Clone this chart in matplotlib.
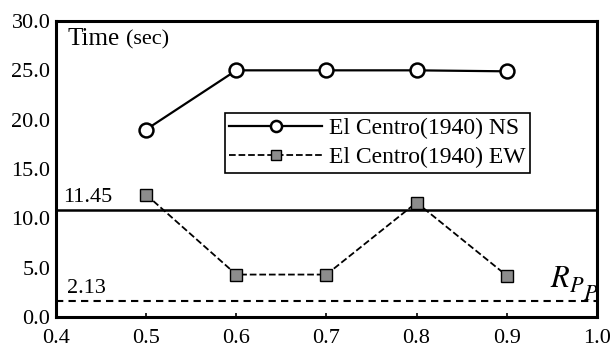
import numpy as np
import matplotlib
matplotlib.use("Agg")
import matplotlib.pyplot as plt

plt.rcParams['font.family'] = ['Liberation Serif', 'DejaVu Serif']
plt.rcParams['mathtext.fontset'] = 'stix'

# ratio values and durations
ratio = [0.5, 0.6, 0.7, 0.8, 0.9]
time_ns = [19.0, 25.0, 25.0, 25.0, 24.9]
time_ew = [12.4, 4.3, 4.3, 11.6, 4.2]
label_ns = "El Centro(1940) NS"
label_ew = "El Centro(1940) EW"

# reference levels (drawn position, printed label)
level_hi = 10.8
level_hi_txt = "11.45"
level_lo = 1.6
level_lo_txt = "2.13"

xticks = [0.4, 0.5, 0.6, 0.7, 0.8, 0.9, 1.0]
yticks = [0.0, 5.0, 10.0, 15.0, 20.0, 25.0, 30.0]

fig = plt.figure(figsize=(6.16, 3.53), dpi=100)
ax = fig.add_axes([0.0909, 0.102, 0.878, 0.8385])

ax.plot(ratio, time_ns, '-', color='black', lw=1.6, marker='o', ms=10,
        mfc='white', mec='black', mew=1.8, label=label_ns)
ax.plot(ratio, time_ew, '--', color='black', lw=1.3, marker='s', ms=9,
        mfc='#8c8c8c', mec='black', mew=1.0, label=label_ew)

ax.axhline(level_hi, color='black', lw=1.8)
ax.axhline(level_lo, color='black', lw=1.5, ls=(0, (3.5, 2.5)))

ax.text(0.4078, 11.66, level_hi_txt, fontsize=16, va='baseline')
ax.text(0.4122, 2.43, level_lo_txt, fontsize=16, va='baseline')
ax.text(0.4133, 27.6, "Time", fontsize=18, va='baseline')
ax.text(0.4776, 27.6, "(sec)", fontsize=16, va='baseline')

# R with two stepped P subscripts, set by hand like the original
ax.text(0.9475, 3.04, r"$R$", fontsize=22, va='baseline', ha='left')
ax.text(0.9690, 2.5, r"$P$", fontsize=16, va='baseline', ha='left')
ax.text(0.9850, 1.72, r"$P$", fontsize=16, va='baseline', ha='left')

ax.set_xlim(0.4, 1.0)
ax.set_ylim(0, 30)
ax.set_xticks(xticks)
ax.set_xticklabels(["%.1f" % v for v in xticks])
ax.set_yticks(yticks)
ax.set_yticklabels(["%.1f" % v for v in yticks])
ax.tick_params(axis='x', direction='in', length=3, width=1.2, labelsize=16, pad=9)
ax.tick_params(axis='y', direction='in', length=0, labelsize=16, pad=4)
for s in ax.spines.values():
    s.set_linewidth(2.2)

leg = ax.legend(loc='upper left', bbox_to_anchor=(0.312, 0.689), borderaxespad=0,
                fontsize=17, frameon=True, fancybox=False, edgecolor='black',
                handlelength=3.9, handletextpad=0.3, borderpad=0.2,
                labelspacing=0.3, markerscale=0.8)
leg.get_frame().set_linewidth(1.2)
leg.get_frame().set_alpha(1)

fig.savefig("out.png", dpi=100)
